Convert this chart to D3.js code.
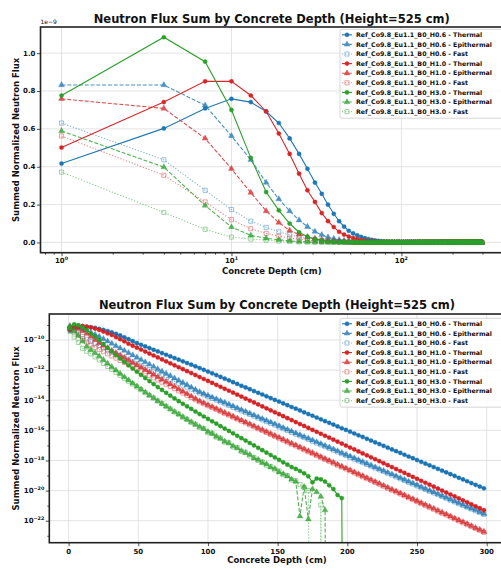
<!DOCTYPE html>
<html>
<head>
<meta charset="utf-8">
<script src="https://cdn.jsdelivr.net/npm/d3@7/dist/d3.min.js"></script>
<style>
  body { margin: 0; background: #fff; }
  svg text { font-family: "DejaVu Sans", sans-serif; fill: #111; }
</style>
</head>
<body>
<svg id="fig" width="501" height="569"></svg>
<script>
// depth points (cm)
var depth = [1,4,7,10,13,16,19,22,25,28,31,34,37,40,43,46,49,52,55,58,
  61,64,67,70,73,76,79,82,85,88,91,94,97,100,103,106,109,112,115,118,
  121,124,127,130,133,136,139,142,145,148,151,154,157,160,163,166,169,172,175,178,
  181,184,187,190,193,196,199,202,205,208,211,214,217,220,223,226,229,232,235,238,
  241,244,247,250,253,256,259,262,265,268,271,274,277,280,283,286,289,292,295,298];

// log10 of summed normalized flux, null = zero flux
var h06Thermal = [-9.38,-9.22,-9.15,-9.12,-9.13,-9.16,-9.20,-9.26,-9.33,-9.41,
  -9.50,-9.59,-9.70,-9.82,-9.95,-10.08,-10.21,-10.32,-10.43,-10.54,
  -10.65,-10.76,-10.87,-10.98,-11.09,-11.20,-11.31,-11.42,-11.53,-11.64,
  -11.75,-11.86,-11.98,-12.10,-12.21,-12.33,-12.45,-12.57,-12.68,-12.80,
  -12.92,-13.04,-13.15,-13.27,-13.39,-13.51,-13.62,-13.74,-13.86,-13.98,
  -14.09,-14.21,-14.33,-14.45,-14.56,-14.68,-14.80,-14.92,-15.03,-15.15,
  -15.27,-15.39,-15.50,-15.62,-15.74,-15.86,-15.97,-16.09,-16.21,-16.33,
  -16.44,-16.56,-16.68,-16.80,-16.91,-17.03,-17.15,-17.27,-17.38,-17.50,
  -17.62,-17.74,-17.85,-17.97,-18.09,-18.21,-18.32,-18.44,-18.56,-18.68,
  -18.79,-18.91,-19.03,-19.15,-19.26,-19.38,-19.50,-19.62,-19.73,-19.85];
var h06Epi = [-9.08,-9.08,-9.14,-9.25,-9.36,-9.50,-9.64,-9.78,-9.93,-10.08,
  -10.24,-10.40,-10.55,-10.71,-10.86,-11.01,-11.16,-11.32,-11.47,-11.62,
  -11.77,-11.93,-12.08,-12.23,-12.38,-12.54,-12.69,-12.84,-12.99,-13.15,
  -13.30,-13.45,-13.57,-13.69,-13.81,-13.93,-14.05,-14.16,-14.28,-14.40,
  -14.52,-14.64,-14.76,-14.88,-15.00,-15.12,-15.24,-15.35,-15.47,-15.59,
  -15.71,-15.83,-15.95,-16.07,-16.19,-16.31,-16.43,-16.54,-16.66,-16.78,
  -16.90,-17.02,-17.14,-17.26,-17.38,-17.50,-17.62,-17.73,-17.85,-17.97,
  -18.09,-18.21,-18.33,-18.45,-18.57,-18.69,-18.81,-18.92,-19.04,-19.16,
  -19.28,-19.40,-19.52,-19.64,-19.76,-19.88,-20.00,-20.11,-20.23,-20.35,
  -20.47,-20.59,-20.71,-20.83,-20.95,-21.07,-21.19,-21.30,-21.42,-21.54];
var h06Fast = [-9.20,-9.36,-9.56,-9.76,-9.95,-10.10,-10.25,-10.39,-10.53,-10.67,
  -10.80,-10.93,-11.06,-11.19,-11.32,-11.45,-11.58,-11.71,-11.84,-11.97,
  -12.10,-12.23,-12.36,-12.48,-12.61,-12.74,-12.87,-13.00,-13.13,-13.26,
  -13.39,-13.52,-13.64,-13.76,-13.88,-13.99,-14.11,-14.23,-14.35,-14.47,
  -14.59,-14.71,-14.82,-14.94,-15.06,-15.18,-15.30,-15.42,-15.53,-15.65,
  -15.77,-15.89,-16.01,-16.13,-16.25,-16.36,-16.48,-16.60,-16.72,-16.84,
  -16.96,-17.08,-17.19,-17.31,-17.43,-17.55,-17.67,-17.79,-17.91,-18.02,
  -18.14,-18.26,-18.38,-18.50,-18.62,-18.73,-18.85,-18.97,-19.09,-19.21,
  -19.33,-19.45,-19.56,-19.68,-19.80,-19.92,-20.04,-20.16,-20.27,-20.39,
  -20.51,-20.63,-20.75,-20.87,-20.99,-21.10,-21.22,-21.34,-21.46,-21.58];
var h10Thermal = [-9.30,-9.13,-9.07,-9.07,-9.11,-9.16,-9.24,-9.33,-9.44,-9.56,
  -9.67,-9.81,-9.95,-10.09,-10.25,-10.38,-10.51,-10.64,-10.77,-10.90,
  -11.03,-11.16,-11.29,-11.42,-11.55,-11.68,-11.81,-11.94,-12.07,-12.20,
  -12.33,-12.46,-12.59,-12.72,-12.85,-12.98,-13.11,-13.24,-13.37,-13.50,
  -13.63,-13.76,-13.89,-14.02,-14.15,-14.28,-14.41,-14.54,-14.67,-14.80,
  -14.93,-15.06,-15.19,-15.32,-15.45,-15.58,-15.71,-15.84,-15.97,-16.10,
  -16.23,-16.36,-16.49,-16.62,-16.75,-16.88,-17.01,-17.14,-17.27,-17.40,
  -17.53,-17.66,-17.79,-17.92,-18.05,-18.18,-18.31,-18.44,-18.57,-18.70,
  -18.83,-18.96,-19.09,-19.22,-19.35,-19.48,-19.61,-19.74,-19.87,-20.00,
  -20.13,-20.26,-20.39,-20.52,-20.65,-20.78,-20.91,-21.04,-21.17,-21.30];
var h10Epi = [-9.12,-9.15,-9.26,-9.41,-9.58,-9.78,-9.98,-10.20,-10.37,-10.53,
  -10.70,-10.86,-11.02,-11.18,-11.34,-11.50,-11.66,-11.82,-11.98,-12.14,
  -12.30,-12.46,-12.62,-12.78,-12.94,-13.10,-13.26,-13.42,-13.58,-13.74,
  -13.90,-14.06,-14.19,-14.32,-14.44,-14.57,-14.70,-14.83,-14.95,-15.08,
  -15.21,-15.34,-15.46,-15.59,-15.72,-15.85,-15.97,-16.10,-16.23,-16.36,
  -16.48,-16.61,-16.74,-16.87,-16.99,-17.12,-17.25,-17.38,-17.50,-17.63,
  -17.76,-17.89,-18.01,-18.14,-18.27,-18.40,-18.52,-18.65,-18.78,-18.91,
  -19.03,-19.16,-19.29,-19.42,-19.54,-19.67,-19.80,-19.93,-20.05,-20.18,
  -20.31,-20.44,-20.56,-20.69,-20.82,-20.95,-21.07,-21.20,-21.33,-21.46,
  -21.58,-21.71,-21.84,-21.97,-22.09,-22.22,-22.35,-22.48,-22.60,-22.73];
var h10Fast = [-9.25,-9.45,-9.67,-9.92,-10.14,-10.32,-10.48,-10.63,-10.78,-10.92,
  -11.06,-11.20,-11.35,-11.49,-11.64,-11.78,-11.93,-12.07,-12.22,-12.36,
  -12.51,-12.65,-12.80,-12.94,-13.09,-13.23,-13.38,-13.52,-13.67,-13.81,
  -13.96,-14.10,-14.23,-14.36,-14.48,-14.61,-14.74,-14.87,-14.99,-15.12,
  -15.25,-15.38,-15.50,-15.63,-15.76,-15.89,-16.01,-16.14,-16.27,-16.40,
  -16.52,-16.65,-16.78,-16.91,-17.03,-17.16,-17.29,-17.42,-17.54,-17.67,
  -17.80,-17.93,-18.05,-18.18,-18.31,-18.44,-18.56,-18.69,-18.82,-18.95,
  -19.07,-19.20,-19.33,-19.46,-19.58,-19.71,-19.84,-19.97,-20.09,-20.22,
  -20.35,-20.48,-20.60,-20.73,-20.86,-20.99,-21.11,-21.24,-21.37,-21.50,
  -21.62,-21.75,-21.88,-22.01,-22.13,-22.26,-22.39,-22.52,-22.64,-22.77];
var h30Thermal = [-9.11,-8.965,-9.02,-9.155,-9.35,-9.575,-9.77,-10.00,-10.27,-10.52,
  -10.76,-11.00,-11.23,-11.46,-11.68,-11.90,-12.11,-12.32,-12.53,-12.73,
  -12.93,-13.13,-13.32,-13.51,-13.70,-13.88,-14.06,-14.24,-14.41,-14.58,
  -14.75,-14.92,-15.08,-15.24,-15.40,-15.56,-15.72,-15.88,-16.04,-16.20,
  -16.36,-16.52,-16.68,-16.84,-17.00,-17.16,-17.32,-17.48,-17.64,-17.80,
  -17.96,-18.12,-18.28,-18.44,-18.56,-18.70,-18.85,-19.05,-19.45,-19.20,
  -19.25,-19.40,-19.65,-19.90,-20.30,-20.50,null,null,null,null,
  null,null,null,null,null,null,null,null,null,null,
  null,null,null,null,null,null,null,null,null,null,
  null,null,null,null,null,null,null,null,null,null];
var h30Epi = [-9.23,-9.40,-9.71,-10.09,-10.43,-10.65,-10.85,-11.07,-11.32,-11.56,
  -11.79,-12.02,-12.24,-12.46,-12.67,-12.88,-13.08,-13.28,-13.48,-13.67,
  -13.86,-14.05,-14.23,-14.41,-14.59,-14.77,-14.94,-15.11,-15.28,-15.45,
  -15.61,-15.77,-15.90,-16.10,-16.22,-16.41,-16.55,-16.74,-16.85,-17.05,
  -17.18,-17.36,-17.50,-17.62,-17.85,-17.95,-18.15,-18.25,-18.45,-18.55,
  -18.78,-18.90,-19.05,-19.25,-19.40,-21.70,-19.75,-21.90,-19.90,-20.10,
  -20.40,-21.30,null,null,null,null,null,null,null,null,
  null,null,null,null,null,null,null,null,null,null,
  null,null,null,null,null,null,null,null,null,null,
  null,null,null,null,null,null,null,null,null,null];
var h30Fast = [-9.43,-9.80,-10.16,-10.55,-10.75,-10.92,-11.12,-11.33,-11.55,-11.76,
  -11.96,-12.16,-12.35,-12.55,-12.74,-12.92,-13.12,-13.30,-13.50,-13.68,
  -13.85,-14.05,-14.22,-14.42,-14.58,-14.78,-14.92,-15.13,-15.27,-15.47,
  -15.60,-15.80,-15.88,-16.15,-16.20,-16.45,-16.52,-16.78,-16.82,-17.10,
  -17.15,-17.40,-17.45,-17.70,-17.80,-18.00,-18.10,-18.32,-18.40,-18.62,
  -18.70,-18.95,-19.00,-19.30,-19.35,-19.60,-19.80,-20.00,null,null,
  -20.96,null,null,null,null,null,null,null,null,null,
  null,null,null,null,null,null,null,null,null,null,
  null,null,null,null,null,null,null,null,null,null,
  null,null,null,null,null,null,null,null,null,null];

var seriesNames = [
  "Ref_Co9.8_Eu1.1_B0_H0.6 - Thermal", "Ref_Co9.8_Eu1.1_B0_H0.6 - Epithermal", "Ref_Co9.8_Eu1.1_B0_H0.6 - Fast",
  "Ref_Co9.8_Eu1.1_B0_H1.0 - Thermal", "Ref_Co9.8_Eu1.1_B0_H1.0 - Epithermal", "Ref_Co9.8_Eu1.1_B0_H1.0 - Fast",
  "Ref_Co9.8_Eu1.1_B0_H3.0 - Thermal", "Ref_Co9.8_Eu1.1_B0_H3.0 - Epithermal", "Ref_Co9.8_Eu1.1_B0_H3.0 - Fast"];
var seriesValues = [h06Thermal, h06Epi, h06Fast, h10Thermal, h10Epi, h10Fast, h30Thermal, h30Epi, h30Fast];
var seriesKinds = ["thermal","epi","fast","thermal","epi","fast","thermal","epi","fast"];
var seriesColors = ["#1f77b4","#1f77b4","#1f77b4","#d62728","#d62728","#d62728","#2ca02c","#2ca02c","#2ca02c"];

var chartTitle = "Neutron Flux Sum by Concrete Depth (Height=525 cm)";
var xTitle = "Concrete Depth (cm)";
var yTitle = "Summed Normalized Neutron Flux";
var linTicks = [0, 0.2, 0.4, 0.6, 0.8, 1.0];   // x 1e-9
var logXTicks = [0, 1, 2];                      // exponents
var depthTicks = [0, 50, 100, 150, 200, 250, 300];
var logYTicks = [-22, -20, -18, -16, -14, -12, -10];

var kindStyle = {
  thermal: {dash: null, sym: d3.symbol().type(d3.symbolCircle).size(14)(), open: false, opacity: 1},
  epi:     {dash: "4,1.8", sym: d3.symbol().type(d3.symbolTriangle).size(15)(), open: false, opacity: 0.8},
  fast:    {dash: "1.2,1.8", sym: d3.symbol().type(d3.symbolSquare).size(17)(), open: true, opacity: 0.55}
};

var series = seriesNames.map(function(n, i) {
  return {name: n, vals: seriesValues[i], kind: seriesKinds[i], color: seriesColors[i]};
});

var svg = d3.select("#fig");
svg.append("rect").attr("width", 501).attr("height", 569).attr("fill", "#fff");

function supText(sel, base, exp) {
  sel.append("tspan").text(base);
  sel.append("tspan").attr("dy", -3.2).attr("font-size", "4.8px").text(exp);
}

function drawSeries(plot, xf, yf) {
  series.forEach(function(s) {
    var st = kindStyle[s.kind];
    var pts = depth.map(function(d, i) { return [xf(d), yf(s.vals[i])]; });
    var sg = plot.append("g").attr("opacity", st.opacity);
    sg.append("path")
      .attr("d", d3.line()(pts))
      .attr("fill", "none")
      .attr("stroke", s.color)
      .attr("stroke-width", 1.1)
      .attr("stroke-dasharray", st.dash);
    sg.selectAll(".mk").data(pts).enter().append("path")
      .attr("class", "mk")
      .attr("transform", function(p) { return "translate(" + p[0] + "," + p[1] + ")"; })
      .attr("d", st.sym)
      .attr("fill", st.open ? "none" : s.color)
      .attr("stroke", s.color)
      .attr("stroke-width", st.open ? 0.8 : 0.4);
  });
}

function drawLegend(x, y, rowH) {
  var lg = svg.append("g");
  lg.append("rect")
    .attr("x", x).attr("y", y).attr("width", 170).attr("height", rowH * 9 + 2.5)
    .attr("rx", 2).attr("fill", "#fff").attr("fill-opacity", 0.85)
    .attr("stroke", "#ccc").attr("stroke-width", 0.8);
  series.forEach(function(s, i) {
    var st = kindStyle[s.kind];
    var cy = y + 5.5 + i * rowH;
    var row = lg.append("g").attr("opacity", st.opacity);
    row.append("line")
      .attr("x1", x + 2).attr("x2", x + 12).attr("y1", cy).attr("y2", cy)
      .attr("stroke", s.color).attr("stroke-width", 1.1)
      .attr("stroke-dasharray", st.dash);
    row.append("path")
      .attr("transform", "translate(" + (x + 7) + "," + cy + ")")
      .attr("d", st.sym)
      .attr("fill", st.open ? "none" : s.color)
      .attr("stroke", s.color)
      .attr("stroke-width", st.open ? 0.8 : 0.4);
    lg.append("text")
      .attr("x", x + 16).attr("y", cy)
      .attr("dy", "0.35em")
      .attr("font-size", "6.3px").attr("font-weight", "bold")
      .text(s.name);
  });
}

function frame(b, clipId) {
  svg.append("clipPath").attr("id", clipId).append("rect")
    .attr("x", b.x0).attr("y", b.y0).attr("width", b.x1 - b.x0).attr("height", b.y1 - b.y0);
}

function labels(b, ty, xly) {
  var cx = (b.x0 + b.x1) / 2;
  svg.append("text").attr("x", cx).attr("y", ty)
    .attr("text-anchor", "middle").attr("font-size", "11.5px").attr("font-weight", "bold")
    .text(chartTitle);
  svg.append("text").attr("x", cx).attr("y", xly)
    .attr("text-anchor", "middle").attr("font-size", "8.5px").attr("font-weight", "bold")
    .text(xTitle);
  svg.append("text")
    .attr("transform", "translate(18.5," + ((b.y0 + b.y1) / 2) + ") rotate(-90)")
    .attr("text-anchor", "middle").attr("font-size", "8.5px").attr("font-weight", "bold")
    .text(yTitle);
}

function spines(b) {
  svg.append("rect")
    .attr("x", b.x0).attr("y", b.y0).attr("width", b.x1 - b.x0).attr("height", b.y1 - b.y0)
    .attr("fill", "none").attr("stroke", "#222").attr("stroke-width", 1.6);
}

function styleAxis(g) {
  g.select(".domain").remove();
  g.selectAll(".tick line").attr("stroke", "#222").attr("stroke-width", 0.8);
}

// ---------- top panel: log x, linear y ----------
var tb = {x0: 40.5, x1: 503, y0: 27, y1: 252.7};
var lx0 = Math.log10(d3.min(depth)), lx1 = Math.log10(d3.max(depth));
var lpad = (lx1 - lx0) * 0.05;
var xTop = d3.scaleLog().domain([Math.pow(10, lx0 - lpad), Math.pow(10, lx1 + lpad)]).range([tb.x0, tb.x1]);

function linVal(v) { return v === null ? 0 : Math.pow(10, v); }
var allLin = [];
seriesValues.forEach(function(a) { a.forEach(function(v) { allLin.push(linVal(v)); }); });
var ymin = d3.min(allLin), ymax = d3.max(allLin), ypad = (ymax - ymin) * 0.05;
var yTop = d3.scaleLinear().domain([ymin - ypad, ymax + ypad]).range([tb.y1, tb.y0]);

frame(tb, "clipTop");
var gridTop = svg.append("g").attr("stroke", "#c8c8c8").attr("stroke-width", 0.7).attr("opacity", 0.7);
logXTicks.forEach(function(e) {
  var x = xTop(Math.pow(10, e));
  gridTop.append("line").attr("x1", x).attr("x2", x).attr("y1", tb.y0).attr("y2", tb.y1);
});
linTicks.forEach(function(t) {
  var y = yTop(t * 1e-9);
  gridTop.append("line").attr("x1", tb.x0).attr("x2", tb.x1).attr("y1", y).attr("y2", y);
});

var plotTop = svg.append("g").attr("clip-path", "url(#clipTop)");
drawSeries(plotTop, xTop, function(v) { return yTop(linVal(v)); });

var minorTop = [];
[0, 1, 2].forEach(function(e) {
  for (var m = 2; m <= 9; m++) {
    var v = m * Math.pow(10, e);
    if (v < xTop.domain()[1]) minorTop.push(v);
  }
});
minorTop.push(0.8, 0.9);
svg.append("g").attr("transform", "translate(0," + tb.y1 + ")")
  .call(d3.axisBottom(xTop).tickValues(minorTop).tickSize(2).tickFormat(""))
  .call(styleAxis);
svg.append("g").attr("transform", "translate(0," + tb.y1 + ")")
  .call(d3.axisBottom(xTop).tickValues(logXTicks.map(function(e) { return Math.pow(10, e); })).tickSize(3.5).tickFormat(""))
  .call(styleAxis);
logXTicks.forEach(function(e) {
  var t = svg.append("text").attr("x", xTop(Math.pow(10, e))).attr("y", tb.y1 + 10.3)
    .attr("text-anchor", "middle").attr("font-size", "7px").attr("font-weight", "bold");
  supText(t, "10", String(e));
});
svg.append("g").attr("transform", "translate(" + tb.x0 + ",0)")
  .call(d3.axisLeft(yTop).tickValues(linTicks.map(function(t) { return t * 1e-9; })).tickSize(3.5).tickFormat(""))
  .call(styleAxis);
linTicks.forEach(function(t) {
  svg.append("text").attr("x", tb.x0 - 5).attr("y", yTop(t * 1e-9)).attr("dy", "0.35em")
    .attr("text-anchor", "end").attr("font-size", "7px").attr("font-weight", "bold")
    .text(t.toFixed(1));
});
svg.append("text").attr("x", tb.x0).attr("y", tb.y0 - 3)
  .attr("font-size", "6px").text("1e\u22129");
spines(tb);
labels(tb, 23, 273.5);
drawLegend(340, 29.3, 9.6);

// ---------- bottom panel: linear x, log y ----------
var bb = {x0: 49.3, x1: 504.6, y0: 314, y1: 542.7};
var dpad = (d3.max(depth) - d3.min(depth)) * 0.05;
var xBot = d3.scaleLinear().domain([d3.min(depth) - dpad, d3.max(depth) + dpad]).range([bb.x0, bb.x1]);
var allLog = [];
seriesValues.forEach(function(a) { a.forEach(function(v) { if (v !== null) allLog.push(v); }); });
var lmin = d3.min(allLog), lmax = d3.max(allLog), lp = (lmax - lmin) * 0.05;
var yBot = d3.scaleLog().domain([Math.pow(10, lmin - lp), Math.pow(10, lmax + lp)]).range([bb.y1, bb.y0]);

frame(bb, "clipBot");
var gridBot = svg.append("g").attr("stroke", "#c8c8c8").attr("stroke-width", 0.7).attr("opacity", 0.7);
depthTicks.forEach(function(t) {
  var x = xBot(t);
  gridBot.append("line").attr("x1", x).attr("x2", x).attr("y1", bb.y0).attr("y2", bb.y1);
});
logYTicks.forEach(function(e) {
  var y = yBot(Math.pow(10, e));
  gridBot.append("line").attr("x1", bb.x0).attr("x2", bb.x1).attr("y1", y).attr("y2", y);
});

var plotBot = svg.append("g").attr("clip-path", "url(#clipBot)");
drawSeries(plotBot, xBot, function(v) { return yBot(v === null ? 1e-60 : Math.pow(10, v)); });

svg.append("g").attr("transform", "translate(0," + bb.y1 + ")")
  .call(d3.axisBottom(xBot).tickValues(depthTicks).tickSize(3.5).tickFormat(""))
  .call(styleAxis);
depthTicks.forEach(function(t) {
  svg.append("text").attr("x", xBot(t)).attr("y", bb.y1 + 11)
    .attr("text-anchor", "middle").attr("font-size", "7px").attr("font-weight", "bold")
    .text(t);
});
var minorY = [-23, -21, -19, -17, -15, -13, -11, -9].map(function(e) { return Math.pow(10, e); });
svg.append("g").attr("transform", "translate(" + bb.x0 + ",0)")
  .call(d3.axisLeft(yBot).tickValues(minorY).tickSize(2).tickFormat(""))
  .call(styleAxis);
svg.append("g").attr("transform", "translate(" + bb.x0 + ",0)")
  .call(d3.axisLeft(yBot).tickValues(logYTicks.map(function(e) { return Math.pow(10, e); })).tickSize(3.5).tickFormat(""))
  .call(styleAxis);
logYTicks.forEach(function(e) {
  var t = svg.append("text").attr("x", bb.x0 - 5).attr("y", yBot(Math.pow(10, e))).attr("dy", "0.35em")
    .attr("text-anchor", "end").attr("font-size", "7px").attr("font-weight", "bold");
  supText(t, "10", "\u2212" + Math.abs(e));
});
spines(bb);
labels(bb, 309, 563);
drawLegend(340, 318.3, 9.6);
</script>
</body>
</html>
